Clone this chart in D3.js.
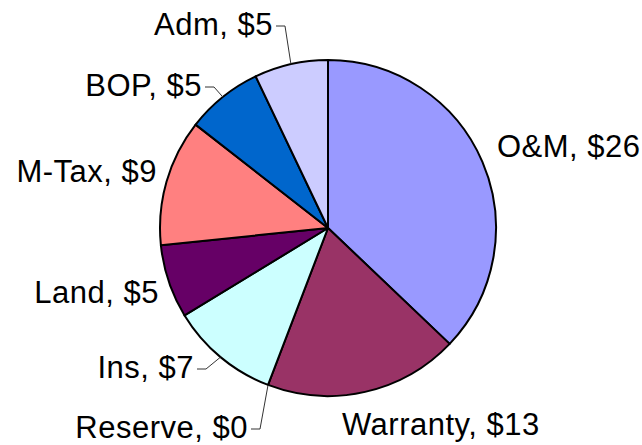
<!DOCTYPE html>
<meta charset="utf-8">
<style>
  body { margin: 0; background: #fff; }
  text { font-family: "Liberation Sans", Arial, sans-serif; }
</style>
<svg id="chart" width="642" height="445"></svg>

<script src="https://d3js.org/d3.v7.min.js"></script>
<script>
// slices, clockwise from 12 o'clock
var categories = ["O&M", "Warranty", "Reserve", "Ins", "Land", "M-Tax", "BOP", "Adm"];
var values = [26.2, 13.2, 0, 7.4, 5.0, 8.6, 5.2, 5.0];
var colors = ["#9999FF", "#993366", "#FFFFCC", "#CCFFFF", "#660066", "#FF8080", "#0066CC", "#CCCCFF"];

// label anchor relative to the pie centre, and which labels get a leader line
var labelPos = {
  "O&M": [169, -71, "start"],
  "Warranty": [14, 207, "start"],
  "Reserve": [-80, 210, "end"],
  "Ins": [-134, 150, "end"],
  "Land": [-169, 75, "end"],
  "M-Tax": [-171, -46, "end"],
  "BOP": [-126, -132, "end"],
  "Adm": [-55, -193, "end"]
};
var leaders = ["Reserve", "Ins", "BOP", "Adm"];

var svg = d3.select("#chart");
var cx = 328, cy = 228, r = 168;

var data = categories.map(function(c, i) { return { name: c, value: values[i], color: colors[i] }; });

var pie = d3.pie().sort(null).value(function(d) { return d.value; });
var arcs = pie(data);

var arc = d3.arc().innerRadius(0).outerRadius(r);
var edge = d3.arc().innerRadius(r).outerRadius(r);

var g = svg.append("g").attr("transform", "translate(" + cx + "," + cy + ")");

g.selectAll("path.slice")
  .data(arcs.filter(function(d) { return d.value > 0; }))
  .join("path")
  .attr("class", "slice")
  .attr("d", arc)
  .attr("fill", function(d) { return d.data.color; })
  .attr("stroke", "#000")
  .attr("stroke-width", 2)
  .attr("stroke-linejoin", "round");

var fs = 31;

var labels = g.selectAll("text.lab")
  .data(arcs)
  .join("text")
  .attr("class", "lab")
  .attr("x", function(d) { return labelPos[d.data.name][0]; })
  .attr("y", function(d) { return labelPos[d.data.name][1]; })
  .attr("text-anchor", function(d) { return labelPos[d.data.name][2]; })
  .attr("font-size", fs)
  .attr("letter-spacing", "0.5px")
  .attr("fill", "#000")
  .text(function(d) { return d.data.name + ", $" + Math.round(d.data.value); });

// leader lines: short horizontal stub from the label, then to the slice edge
g.selectAll("path.leader")
  .data(arcs.filter(function(d) { return leaders.indexOf(d.data.name) >= 0; }))
  .join("path")
  .attr("class", "leader")
  .attr("fill", "none")
  .attr("stroke", "#333")
  .attr("stroke-width", 1)
  .attr("d", function(d) {
    var p = labelPos[d.data.name];
    var y = p[1] - 9;
    var x0 = p[0] + 3, x1 = p[0] + 12;
    var e = edge.centroid(d);
    return d3.line()([[x0, y], [x1, y], e]);
  });
</script>
